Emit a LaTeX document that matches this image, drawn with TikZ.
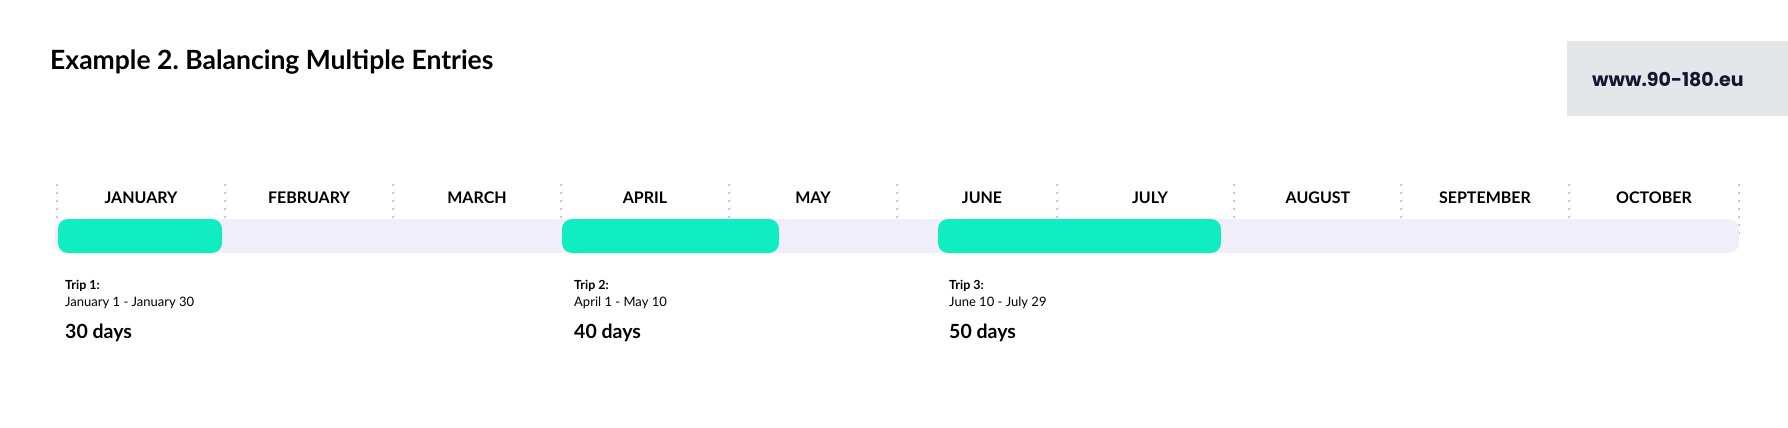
\documentclass[tikz,border=0pt]{standalone}
\usepackage{fontspec}
\setmainfont{Lato}
\newfontfamily\webfont{Poppins}
\usetikzlibrary{positioning}
\frenchspacing

\definecolor{tripgreen}{RGB}{16,237,193}
\definecolor{barlilac}{RGB}{240,238,249}
\definecolor{boxgray}{RGB}{227,231,234}
\definecolor{webnavy}{RGB}{22,22,48}
\definecolor{dotgray}{RGB}{165,165,165}

\begin{document}
\begin{tikzpicture}[x=1pt,y=-1pt,
	month/.style={anchor=base,inner sep=0pt,font=\bfseries\fontsize{16}{16}\selectfont},
	sep/.style={dotgray,line width=2pt,line cap=round,dash pattern=on 0pt off 8pt},
	tripbar/.style={fill=tripgreen,rounded corners=10pt},
	triphead/.style={anchor=base west,inner sep=0pt,font=\bfseries\fontsize{12.5}{12.5}\selectfont},
	tripdates/.style={anchor=base west,inner sep=0pt,font=\fontsize{13}{13}\selectfont},
	tripdays/.style={anchor=base west,inner sep=0pt,font=\bfseries\fontsize{19.5}{19.5}\selectfont}]
	\useasboundingbox (0,0) rectangle (1788,428);

	% the heading
	\node[anchor=base west,inner sep=0pt,font=\bfseries\fontsize{26.5}{26.5}\selectfont] (title) at (50,70)
		{Example 2. Balancing Multiple Entries};

	% the web address in its grey box
	\fill[boxgray] (1567,41) rectangle (1788,116);
	\node[anchor=base west,inner sep=0pt,text=webnavy,font=\webfont\bfseries\fontsize{19}{19}\selectfont] (web) at (1592,86) {www.90-180.eu};

	% the dotted month borders
	\foreach \x in {57,225,393,561,729,897,1057,1234,1401,1569}
		\draw[sep] (\x,185) -- (\x,217);
	\draw[sep] (1739,185) -- (1739,233);

	% the month names, each at its own centre
	\foreach \x/\mtext [count=\i] in {
		141/JANUARY,
		309/FEBRUARY,
		477/MARCH,
		645/APRIL,
		813/MAY,
		982/JUNE,
		1150/JULY,
		1318/AUGUST,
		1485/SEPTEMBER,
		1654/OCTOBER}
		\node[month] (month\i) at (\x,203) {\mtext};

	% the time line and the trips on it
	\fill[barlilac,rounded corners=10pt] (55,219) rectangle (1739,253);
	\foreach \a/\b in {58/222,562/779,938/1221}
		\fill[tripbar] (\a,219) rectangle (\b,253);

	% the trip notes
	\foreach \x/\dtext/\n [count=\i] in {
		65/January 1 - January 30/30,
		574/April 1 - May 10/40,
		949/June 10 - July 29/50} {
		\node[triphead] (trip\i) at (\x,289) {Trip \i:};
		\node[tripdates] (dates\i) at (\x,306) {\dtext};
		\node[tripdays] (days\i) at (\x,338) {\n\ days};
	}
\end{tikzpicture}
\end{document}
